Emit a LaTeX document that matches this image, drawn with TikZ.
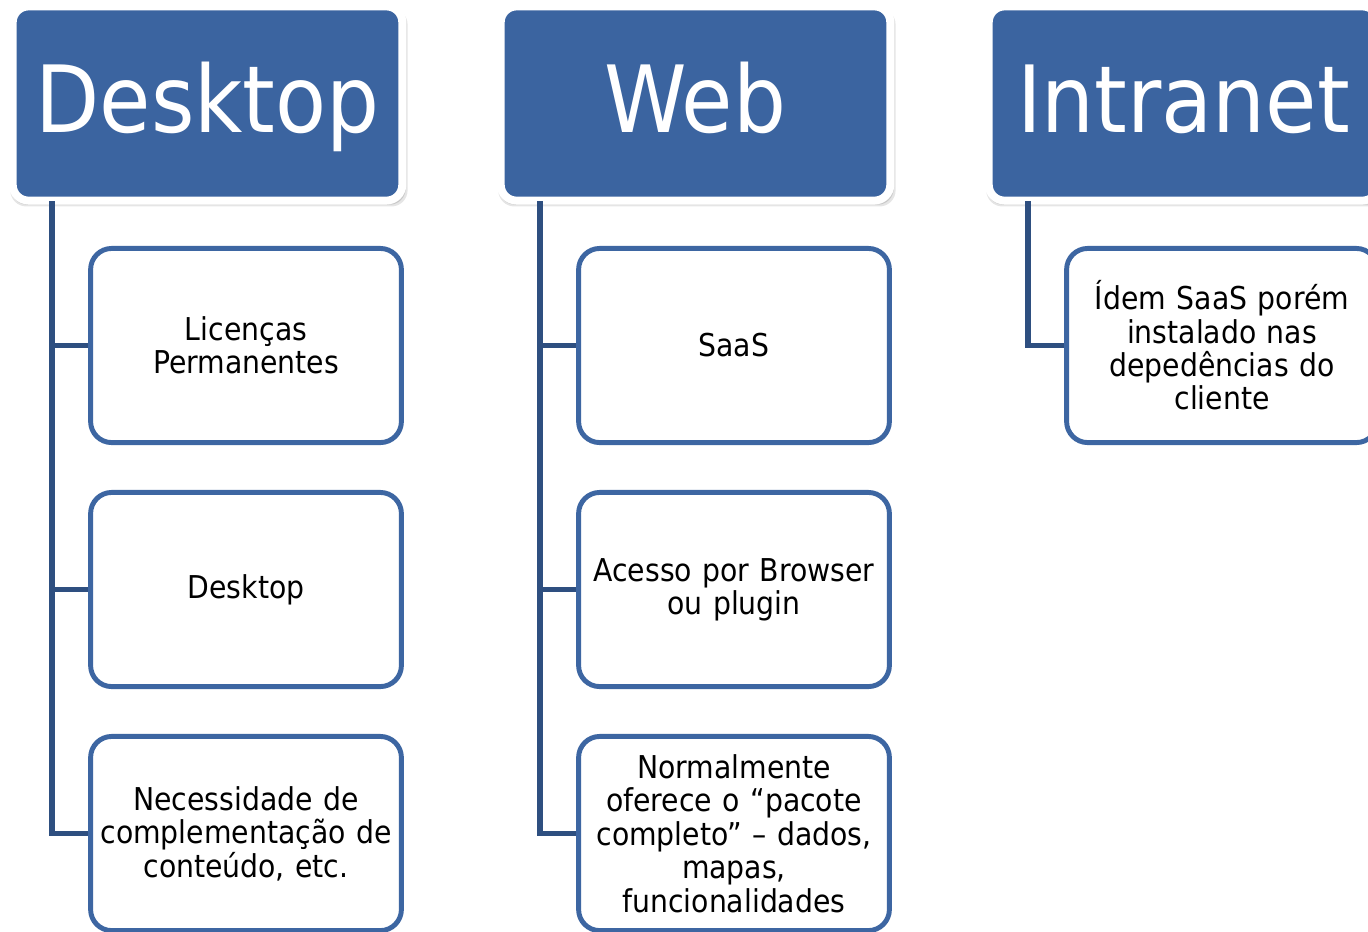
\documentclass[tikz,border=0pt]{standalone}
\usepackage{fontspec}
\setmainfont{DejaVu Sans Condensed}
\usetikzlibrary{shadows}
\definecolor{hdrfill}{HTML}{3B64A0}
\definecolor{cbord}{HTML}{3D66A2}
\definecolor{connc}{HTML}{2E4F80}
\tikzset{
  hdrbox/.style={draw=white, line width=4.5pt, fill=hdrfill, rounded corners=9pt,
    minimum width=221.7pt, minimum height=110.5pt, inner sep=0pt, text=white,
    font=\fontsize{52.8}{60}\selectfont, text height=32.8pt, text depth=0pt,
    general shadow={shadow xshift=0.8pt, shadow yshift=-2.2pt, shadow scale=1.02, opacity=0.10, fill=black, rounded corners=11pt},
    general shadow={shadow xshift=0.5pt, shadow yshift=-1.6pt, shadow scale=1.013, opacity=0.13, fill=black, rounded corners=10pt},
    general shadow={shadow xshift=0.3pt, shadow yshift=-1pt, shadow scale=1.006, opacity=0.18, fill=black, rounded corners=9pt}},
  childbox/.style={draw=cbord, line width=2.8pt, fill=white, rounded corners=12pt,
    minimum width=176.9pt, minimum height=110.5pt, inner sep=2pt, text width=168pt,
    align=center, font=\fontsize{17.9}{19}\selectfont, text=black},
  connline/.style={draw=connc, line width=2.9pt}
}
\begin{document}
\begin{tikzpicture}[x=0.02cm,y=-0.02cm]
\useasboundingbox (0,0) rectangle (1368,931);
\clip (0,0) rectangle (1368,931);
% headers
\node[hdrbox] (hd) at (207.5,103.5) {Desktop};
\node[hdrbox] (hw) at (695.5,103.5) {Web};
\node[hdrbox] (hi) at (1183.5,103.5) {Intranet};
% connector tops
\coordinate (cd) at (52,201);
\coordinate (cw) at (540,201);
\coordinate (ci) at (1028,201);
% children
\node[childbox] (d1) at (246,345.5) {Licenças\\Permanentes};
\node[childbox] (d2) at (246,589.5) {Desktop};
\node[childbox] (d3) at (246,833.5) {Necessidade de\\complementação de\\conteúdo, etc.};
\node[childbox] (w1) at (734,345.5) {SaaS};
\node[childbox] (w2) at (734,589.5) {Acesso por Browser\\ou plugin};
\node[childbox] (w3) at (734,833.5) {Normalmente\\oferece o “pacote\\completo” – dados,\\mapas,\\funcionalidades};
\node[childbox] (i1) at (1222,345.5) {Ídem SaaS porém\\instalado nas\\depedências do\\cliente};
% connectors
\draw[connline] (cd) |- (d1.west);
\draw[connline] (cd) |- (d2.west);
\draw[connline] (cd) |- (d3.west);
\draw[connline] (cw) |- (w1.west);
\draw[connline] (cw) |- (w2.west);
\draw[connline] (cw) |- (w3.west);
\draw[connline] (ci) |- (i1.west);
\end{tikzpicture}
\end{document}
